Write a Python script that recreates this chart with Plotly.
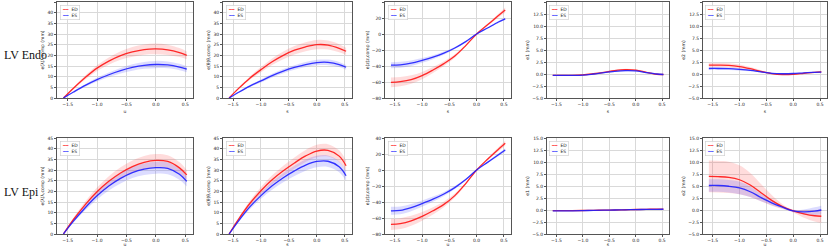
import plotly.graph_objects as go
from plotly.subplots import make_subplots

# ---------------- data ----------------
x_vals = [-1.571, -1.4, -1.2, -1.0, -0.8, -0.6, -0.4, -0.2, 0.0, 0.2, 0.4, 0.524]

row_labels = ["LV Endo", "LV Epi"]
series_names = ["ED", "ES"]
x_titles = [["u", "s", "s", "s", "s"], ["u", "s", "u", "s", "u"]]
y_titles = ["e(λ)λ,comp (mm)", "e(θ)θ,comp (mm)", "e(z)z,comp (mm)", "e1 (mm)", "e2 (mm)"]

# LV Endo
endo_c1_ed = [0, 4.6, 9.6, 14.0, 17.3, 19.9, 21.6, 22.7, 23.0, 22.6, 21.3, 20.0]
endo_c1_ed_sd = [0, 0.4, 0.9, 1.3, 1.7, 2.0, 2.3, 2.4, 2.5, 2.4, 2.1, 1.8]
endo_c1_es = [0, 2.8, 5.9, 8.6, 10.9, 12.8, 14.3, 15.3, 15.7, 15.5, 14.5, 13.5]
endo_c1_es_sd = [0, 0.3, 0.6, 0.9, 1.1, 1.3, 1.5, 1.6, 1.7, 1.6, 1.5, 1.4]

endo_c2_ed = [0, 4.5, 9.3, 13.3, 17.0, 20.0, 22.4, 24.0, 25.0, 24.8, 23.3, 21.9]
endo_c2_ed_sd = [0, 0.4, 0.8, 1.2, 1.5, 1.8, 2.0, 2.1, 2.2, 2.1, 1.9, 1.7]
endo_c2_es = [0, 2.7, 5.6, 8.0, 10.5, 12.6, 14.3, 15.7, 16.6, 16.7, 15.7, 14.4]
endo_c2_es_sd = [0, 0.2, 0.5, 0.7, 0.9, 1.0, 1.1, 1.2, 1.3, 1.3, 1.2, 1.1]

endo_c3_ed = [-60.5, -59.5, -57.0, -52.0, -45.0, -37.0, -27.5, -14.5, 0.0, 11.5, 23.0, 30.0]
endo_c3_ed_sd = [6.0, 5.8, 5.3, 4.6, 3.8, 3.0, 2.2, 1.2, 0.2, 1.2, 2.3, 3.0]
endo_c3_es = [-39.0, -38.5, -36.5, -33.0, -29.0, -24.0, -17.5, -9.5, 0.0, 7.5, 15.0, 19.0]
endo_c3_es_sd = [3.8, 3.7, 3.4, 3.0, 2.5, 2.0, 1.4, 0.8, 0.2, 0.7, 1.2, 1.5]

endo_c4_ed = [-0.3, -0.3, -0.3, -0.2, 0.05, 0.35, 0.7, 0.9, 0.8, 0.35, -0.05, -0.1]
endo_c4_ed_sd = [0.12, 0.12, 0.12, 0.12, 0.14, 0.16, 0.18, 0.2, 0.18, 0.16, 0.12, 0.12]
endo_c4_es = [-0.3, -0.3, -0.3, -0.25, 0.0, 0.3, 0.55, 0.7, 0.65, 0.3, 0.0, -0.1]
endo_c4_es_sd = [0.1, 0.1, 0.1, 0.1, 0.12, 0.14, 0.15, 0.16, 0.15, 0.13, 0.1, 0.1]

endo_c5_ed = [1.85, 1.85, 1.8, 1.55, 1.1, 0.55, 0.1, -0.1, -0.05, 0.15, 0.35, 0.45]
endo_c5_ed_sd = [0.45, 0.45, 0.45, 0.42, 0.35, 0.25, 0.15, 0.12, 0.12, 0.12, 0.14, 0.15]
endo_c5_es = [1.15, 1.15, 1.1, 0.95, 0.75, 0.45, 0.15, 0.05, 0.1, 0.25, 0.35, 0.4]
endo_c5_es_sd = [0.28, 0.28, 0.27, 0.25, 0.2, 0.15, 0.1, 0.08, 0.08, 0.08, 0.1, 0.1]

# LV Epi
epi_c1_ed = [0, 6.8, 13.8, 19.8, 24.7, 28.6, 31.6, 33.6, 34.5, 34.0, 31.0, 27.7]
epi_c1_ed_sd = [0, 0.7, 1.4, 2.0, 2.4, 2.7, 2.9, 3.0, 3.0, 2.9, 2.6, 2.3]
epi_c1_es = [0, 6.0, 12.3, 17.9, 22.5, 26.1, 28.8, 30.4, 31.1, 30.8, 28.0, 24.7]
epi_c1_es_sd = [0, 0.6, 1.2, 1.7, 2.1, 2.4, 2.6, 2.7, 2.8, 2.8, 2.6, 2.4]

epi_c2_ed = [0, 7.0, 14.3, 20.3, 25.4, 29.6, 33.3, 36.6, 38.9, 39.2, 36.5, 32.0]
epi_c2_ed_sd = [0, 0.6, 1.2, 1.7, 2.1, 2.4, 2.6, 2.8, 2.9, 2.9, 2.7, 2.4]
epi_c2_es = [0, 6.2, 12.7, 18.0, 22.6, 26.4, 29.6, 32.3, 34.0, 34.1, 31.5, 27.3]
epi_c2_es_sd = [0, 0.5, 1.1, 1.5, 1.9, 2.2, 2.4, 2.6, 2.7, 2.7, 2.5, 2.3]

epi_c3_ed = [-68.0, -67.0, -63.5, -58.0, -51.0, -43.0, -32.0, -17.0, 0.0, 13.5, 26.0, 33.5]
epi_c3_ed_sd = [7.0, 6.8, 6.2, 5.4, 4.5, 3.5, 2.5, 1.3, 0.2, 1.2, 2.5, 3.2]
epi_c3_es = [-51.0, -50.5, -47.0, -42.0, -36.5, -30.0, -22.0, -12.0, 0.0, 9.5, 19.0, 25.0]
epi_c3_es_sd = [5.0, 4.9, 4.5, 4.0, 3.3, 2.6, 1.9, 1.0, 0.2, 0.9, 1.8, 2.3]

epi_c4_ed = [-0.15, -0.15, -0.13, -0.1, -0.07, -0.03, 0.0, 0.05, 0.1, 0.15, 0.2, 0.2]
epi_c4_ed_sd = [0.08, 0.08, 0.08, 0.07, 0.07, 0.06, 0.06, 0.06, 0.06, 0.07, 0.08, 0.08]
epi_c4_es = [-0.2, -0.2, -0.17, -0.13, -0.08, -0.04, 0.0, 0.04, 0.08, 0.12, 0.15, 0.16]
epi_c4_es_sd = [0.07, 0.07, 0.07, 0.06, 0.06, 0.05, 0.05, 0.05, 0.05, 0.06, 0.07, 0.07]

epi_c5_ed = [7.0, 6.95, 6.8, 6.3, 5.2, 3.6, 2.0, 0.7, -0.2, -0.8, -1.2, -1.3]
epi_c5_ed_sd = [3.3, 3.3, 3.25, 3.0, 2.5, 1.8, 1.1, 0.5, 0.3, 0.8, 1.2, 1.4]
epi_c5_es = [5.1, 5.1, 4.95, 4.6, 3.8, 2.6, 1.5, 0.6, -0.2, -0.4, -0.25, 0.0]
epi_c5_es_sd = [1.3, 1.3, 1.3, 1.3, 1.1, 0.8, 0.5, 0.3, 0.2, 0.5, 0.8, 0.9]

panels = [
    [(endo_c1_ed, endo_c1_ed_sd, endo_c1_es, endo_c1_es_sd),
     (endo_c2_ed, endo_c2_ed_sd, endo_c2_es, endo_c2_es_sd),
     (endo_c3_ed, endo_c3_ed_sd, endo_c3_es, endo_c3_es_sd),
     (endo_c4_ed, endo_c4_ed_sd, endo_c4_es, endo_c4_es_sd),
     (endo_c5_ed, endo_c5_ed_sd, endo_c5_es, endo_c5_es_sd)],
    [(epi_c1_ed, epi_c1_ed_sd, epi_c1_es, epi_c1_es_sd),
     (epi_c2_ed, epi_c2_ed_sd, epi_c2_es, epi_c2_es_sd),
     (epi_c3_ed, epi_c3_ed_sd, epi_c3_es, epi_c3_es_sd),
     (epi_c4_ed, epi_c4_ed_sd, epi_c4_es, epi_c4_es_sd),
     (epi_c5_ed, epi_c5_ed_sd, epi_c5_es, epi_c5_es_sd)],
]

y_ranges = [[0, 45], [0, 45], [-80, 40], [-5, 15], [-5, 15]]
y_dticks = [5, 5, 20, 2.5, 2.5]
y_formats = ["d", "d", "d", ".1f", ".1f"]
x_range = [-1.68, 0.63]

# ---------------- layout geometry ----------------
W, H = 830, 247
col_px = [(57, 193), (223, 352), (385, 511), (547, 669), (703, 827)]
row_px = [(2, 98), (138, 234)]
row_label_px = [55, 192]

line_colors = ["rgba(255,20,20,0.9)", "rgba(30,30,255,0.9)"]
band_colors = ["rgba(255,80,80,0.2)", "rgba(80,80,255,0.2)"]

fig = make_subplots(rows=2, cols=5)

tick_font = dict(family="DejaVu Sans", size=4.5, color="#222")
title_font = dict(family="DejaVu Sans", size=4.5, color="#222")

for r in range(2):
    for c in range(5):
        ed, ed_sd, es, es_sd = panels[r][c]
        for k, (mean, sd) in enumerate([(ed, ed_sd), (es, es_sd)]):
            upper = [m + s for m, s in zip(mean, sd)]
            lower = [m - s for m, s in zip(mean, sd)]
            fig.add_trace(go.Scatter(x=x_vals, y=upper, mode="lines", line=dict(width=0, shape="spline"),
                                     showlegend=False, hoverinfo="skip"), row=r + 1, col=c + 1)
            fig.add_trace(go.Scatter(x=x_vals, y=lower, mode="lines", line=dict(width=0, shape="spline"),
                                     fill="tonexty", fillcolor=band_colors[k],
                                     showlegend=False, hoverinfo="skip"), row=r + 1, col=c + 1)
        for k, mean in enumerate([ed, es]):
            fig.add_trace(go.Scatter(x=x_vals, y=mean, mode="lines", name=series_names[k],
                                     line=dict(color=line_colors[k], width=1.3, shape="spline"),
                                     showlegend=False), row=r + 1, col=c + 1)

        idx = r * 5 + c + 1
        xa = "xaxis" if idx == 1 else f"xaxis{idx}"
        ya = "yaxis" if idx == 1 else f"yaxis{idx}"
        x0, x1 = col_px[c]
        t0, t1 = row_px[r]
        fig.layout[xa].update(
            domain=[x0 / W, x1 / W], range=x_range, tickvals=[-1.5, -1.0, -0.5, 0.0, 0.5],
            tickformat=".1f", tickfont=tick_font, showgrid=True, gridcolor="#d9d9d9", gridwidth=0.8,
            zeroline=False, showline=True, linecolor="#555", linewidth=0.8, mirror=True,
            ticks="outside", ticklen=2, tickcolor="#555", tickwidth=0.6, automargin=False,
            title=dict(text=x_titles[r][c], font=title_font, standoff=3),
        )
        fig.layout[ya].update(
            domain=[1 - t1 / H, 1 - t0 / H], range=y_ranges[c], dtick=y_dticks[c], tick0=y_ranges[c][0],
            tickformat=y_formats[c], tickfont=tick_font, showgrid=True, gridcolor="#d9d9d9", gridwidth=0.8,
            zeroline=False, showline=True, linecolor="#555", linewidth=0.8, mirror=True,
            ticks="outside", ticklen=2, tickcolor="#555", tickwidth=0.6, automargin=False,
            title=dict(text=y_titles[c], font=title_font, standoff=2),
        )
        # legend box (per subplot)
        fig.add_annotation(
            xref=f"{'x' if idx == 1 else 'x' + str(idx)} domain",
            yref=f"{'y' if idx == 1 else 'y' + str(idx)} domain",
            x=0.02, y=0.97, xanchor="left", yanchor="top", showarrow=False, align="left",
            text=(f"<span style='color:{line_colors[0]}'>━━</span>  {series_names[0]}<br>"
                  f"<span style='color:{line_colors[1]}'>━━</span>  {series_names[1]}"),
            font=dict(family="DejaVu Sans", size=4.5, color="#222"),
            bgcolor="rgba(255,255,255,0.85)", bordercolor="#ccc", borderwidth=0.6, borderpad=1.5,
        )

for r in range(2):
    fig.add_annotation(xref="paper", yref="paper", x=2 / W, y=1 - row_label_px[r] / H,
                       xanchor="left", yanchor="middle", showarrow=False,
                       text=row_labels[r], font=dict(family="Liberation Serif", size=12, color="#111"))

fig.update_layout(width=W, height=H, margin=dict(l=0, r=0, t=0, b=0),
                  plot_bgcolor="white", paper_bgcolor="white", showlegend=False)

fig.write_html("out.html", config={"displayModeBar": False},
               post_script="document.body.style.margin='0';document.body.style.overflow='hidden';")
